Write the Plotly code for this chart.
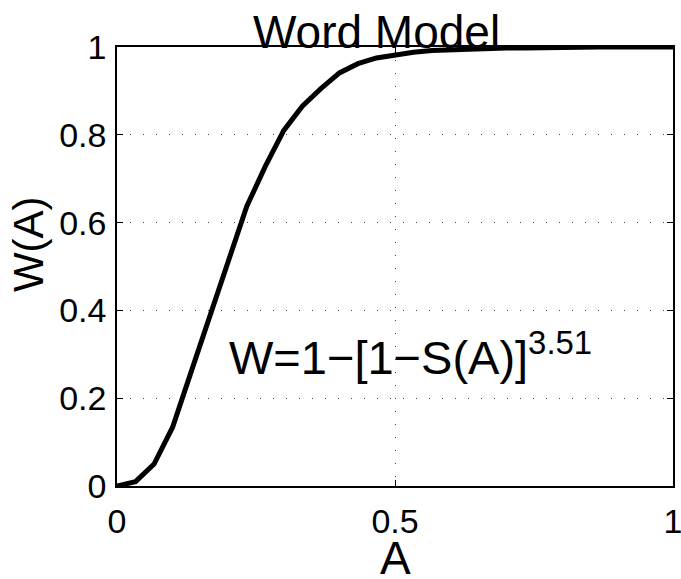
import plotly.graph_objects as go

# Word model curve W(A), sampled every 1/30 of A
A_vals = [0, 1/30, 2/30, 3/30, 4/30, 5/30, 6/30, 7/30, 8/30, 9/30, 10/30,
          11/30, 12/30, 13/30, 14/30, 15/30, 16/30, 17/30, 18/30, 19/30, 20/30,
          21/30, 22/30, 23/30, 24/30, 25/30, 26/30, 27/30, 28/30, 29/30, 1]
W_vals = [0.0, 0.01, 0.05, 0.134, 0.26, 0.385, 0.51, 0.637, 0.728, 0.81, 0.865,
          0.905, 0.941, 0.962, 0.975, 0.982, 0.988, 0.992, 0.994, 0.996, 0.997,
          0.998, 0.998, 0.999, 0.999, 0.999, 1.0, 1.0, 1.0, 1.0, 1.0]

x_ticks = [0, 0.5, 1]
x_ticklabels = ["0", "0.5", "1"]
y_ticks = [0, 0.2, 0.4, 0.6, 0.8, 1]
y_ticklabels = ["0", "0.2", "0.4", "0.6", "0.8", "1"]

FONT = "Liberation Sans, Arial, Helvetica, sans-serif"

fig = go.Figure()
fig.add_trace(go.Scatter(x=A_vals, y=W_vals, mode="lines",
                         line=dict(color="black", width=5),
                         hoverinfo="skip", showlegend=False))

axis_common = dict(
    showline=True, linecolor="black", linewidth=1.5, mirror="ticks",
    ticks="inside", ticklen=6, tickwidth=1, tickcolor="black",
    showgrid=True, gridcolor="#444", gridwidth=1, griddash="1px,12px",
    zeroline=False, automargin=False, ticklabeloverflow="allow",
    tickfont=dict(family=FONT, size=34, color="black"),
)

fig.update_xaxes(range=[0, 1], tickvals=x_ticks, ticktext=x_ticklabels,
                 ticklabelstandoff=4, **axis_common)
fig.update_yaxes(range=[0, 1], tickvals=y_ticks, ticktext=y_ticklabels,
                 ticklabelstandoff=2, **axis_common)

# Title, axis labels and the model formula
fig.add_annotation(text="Word Model", xref="paper", yref="paper",
                   x=0.4676, y=1, xanchor="center", yanchor="bottom", yshift=-13,
                   showarrow=False, font=dict(family=FONT, size=46, color="black"))
fig.add_annotation(text="A", xref="paper", yref="paper",
                   x=0.5, y=0, xanchor="center", yanchor="top", yshift=-44,
                   showarrow=False, font=dict(family=FONT, size=46, color="black"))
fig.add_annotation(text="W(A)", xref="paper", yref="paper", textangle=-90,
                   x=0, y=0.55, xanchor="right", yanchor="middle", xshift=-63,
                   showarrow=False, font=dict(family=FONT, size=42, color="black"))
fig.add_annotation(text="W=1\u2212[1\u2212S(A)]<sup>3.51</sup>", xref="x", yref="y",
                   x=0.198, y=0.253, xanchor="left", yanchor="bottom", yshift=-11,
                   showarrow=False, font=dict(family=FONT, size=47, color="black"))

fig.update_layout(
    width=681, height=579,
    margin=dict(l=117, r=8, t=47, b=93),
    paper_bgcolor="white", plot_bgcolor="white",
    font=dict(family=FONT, color="black"),
)

fig.write_html("out.html")
